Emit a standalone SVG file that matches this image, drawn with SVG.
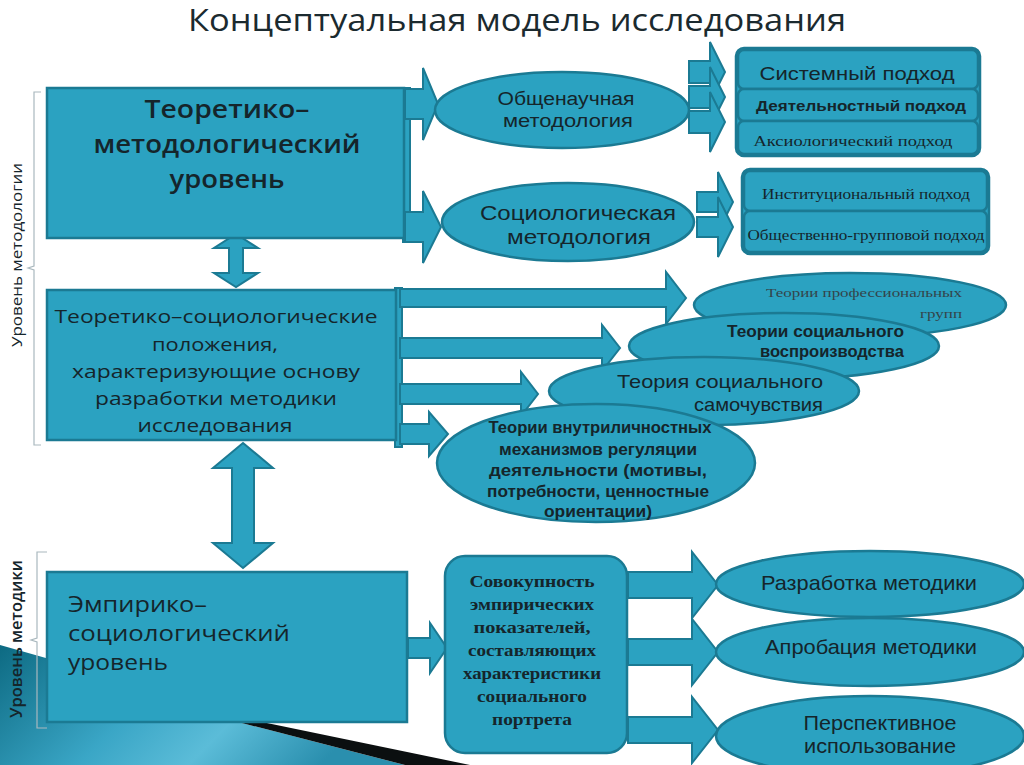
<svg xmlns="http://www.w3.org/2000/svg" width="1024" height="765" viewBox="0 0 1024 765">
<defs>
<linearGradient id="deco" x1="0" y1="0" x2="1" y2="0.3">
<stop offset="0" stop-color="#0d6a82"/>
<stop offset="0.45" stop-color="#3aa6c6"/>
<stop offset="0.7" stop-color="#5bbcd8"/>
<stop offset="1" stop-color="#2a8fae"/>
</linearGradient>
<style>
.n{fill:#2ba2c1;stroke:#1b7a93;stroke-width:2.5}
.a{fill:#2ba2c1;stroke:#1b7a93;stroke-width:2;stroke-linejoin:miter}
.br{fill:none;stroke:#a9b8be;stroke-width:1.2}
.t{fill:#15252b;font-family:"Open Sans","DejaVu Sans",sans-serif;text-anchor:middle}
.c{fill:#15252b;font-family:"Liberation Sans",Arial,sans-serif;text-anchor:middle}
.s{fill:#15252b;font-family:"Liberation Serif","Times New Roman",serif;text-anchor:middle}
</style>
</defs>
<rect width="1024" height="765" fill="#ffffff"/>

<!-- decoration bottom-left -->
<polygon points="0,645 60,662 60,722 238,722 405,765 0,765" fill="url(#deco)"/>
<polygon points="238,722 262,722 470,765 405,765" fill="#0b0f10"/>

<!-- title -->
<text x="517" y="31" font-family="'Open Sans','DejaVu Sans',sans-serif" font-size="31" fill="#1b2a2f" text-anchor="middle" textLength="658" lengthAdjust="spacingAndGlyphs">Концептуальная модель исследования</text>

<!-- side labels -->
<g id="label-methodology">
<path class="br" d="M41,92 L34,92 L34,266 L28,268 L34,270 L34,445 L41,445"/>
<text transform="translate(22,255) rotate(-90)" font-family="'Open Sans','DejaVu Sans',sans-serif" font-size="15" fill="#15252b" text-anchor="middle" textLength="184" lengthAdjust="spacingAndGlyphs">Уровень методологии</text>
</g>
<g id="label-method">
<path class="br" d="M47,552 L37,552 L37,638 L31,640 L37,642 L37,728 L47,728"/>
<text transform="translate(22,639) rotate(-90)" font-family="'Open Sans','DejaVu Sans',sans-serif" font-size="16" font-weight="600" fill="#15252b" text-anchor="middle" textLength="158" lengthAdjust="spacingAndGlyphs">Уровень методики</text>
</g>

<!-- connectors -->
<g id="connectors">
<rect class="a" x="403" y="88" width="7" height="154"/>
<path class="a" d="M405,89 L423,89 L423,68 L438,104 L423,140 L423,119 L405,119 Z"/>
<path class="a" d="M405,212 L423,212 L423,191 L441,227 L423,263 L423,242 L405,242 Z"/>

<path class="a" d="M689,61 L710,61 L710,42 L725,72 L710,102 L710,83 L689,83 Z"/>
<path class="a" d="M689,86 L710,86 L710,67 L725,97 L710,127 L710,108 L689,108 Z"/>
<path class="a" d="M689,111 L710,111 L710,92 L725,122 L710,152 L710,133 L689,133 Z"/>
<path class="a" d="M697,192 L718,192 L718,172 L733,202 L718,232 L718,212 L697,212 Z"/>
<path class="a" d="M697,217 L718,217 L718,197 L733,227 L718,257 L718,237 L697,237 Z"/>

<rect class="a" x="395" y="288" width="7" height="159"/>
<path class="a" d="M400,289 L666,289 L666,272 L686,298 L666,324 L666,307 L400,307 Z"/>
<path class="a" d="M400,338 L602,338 L602,325 L620,348 L602,371 L602,358 L400,358 Z"/>
<path class="a" d="M400,384 L521,384 L521,372 L538,394 L521,416 L521,404 L400,404 Z"/>
<path class="a" d="M400,424 L429,424 L429,412 L448,434 L429,456 L429,444 L400,444 Z"/>

<path class="a" d="M236,234 L258,248 L243,248 L243,273 L258,273 L236,287 L214,273 L229,273 L229,248 L214,248 Z"/>
<path class="a" d="M243,443 L273,468 L254,468 L254,543 L273,543 L243,568 L213,543 L232,543 L232,468 L213,468 Z"/>

<path class="a" d="M408,638 L430,638 L430,623 L447,648 L430,673 L430,658 L408,658 Z"/>

<path class="a" d="M628,572 L692,572 L692,552 L718,585 L692,618 L692,598 L628,598 Z"/>
<path class="a" d="M628,639 L692,639 L692,619 L718,652 L692,685 L692,665 L628,665 Z"/>
<path class="a" d="M628,717 L692,717 L692,697 L718,730 L692,763 L692,743 L628,743 Z"/>
</g>

<!-- main boxes -->
<g id="n-theor-method">
<rect class="n" x="47" y="88" width="357" height="150"/>
<text class="t" x="227" y="118" font-size="25" font-weight="600" textLength="165" lengthAdjust="spacingAndGlyphs">Теоретико–</text>
<text class="t" x="227" y="153" font-size="25" font-weight="600" textLength="267" lengthAdjust="spacingAndGlyphs">методологический</text>
<text class="t" x="227" y="188" font-size="25" font-weight="600" textLength="115" lengthAdjust="spacingAndGlyphs">уровень</text>
</g>

<g id="n-theor-soc">
<rect class="n" x="47" y="290" width="349" height="150"/>
<text class="t" x="216" y="323" font-size="19" textLength="323" lengthAdjust="spacingAndGlyphs">Теоретико–социологические</text>
<text class="t" x="215" y="351" font-size="19" textLength="126" lengthAdjust="spacingAndGlyphs">положения,</text>
<text class="t" x="216" y="378" font-size="19" textLength="288" lengthAdjust="spacingAndGlyphs">характеризующие основу</text>
<text class="t" x="216" y="405" font-size="19" textLength="242" lengthAdjust="spacingAndGlyphs">разработки методики</text>
<text class="t" x="215" y="432" font-size="19" textLength="155" lengthAdjust="spacingAndGlyphs">исследования</text>
</g>

<g id="n-emp">
<rect class="n" x="47" y="572" width="360" height="150"/>
<text class="t" x="68" y="612" font-size="21" style="text-anchor:start" textLength="139" lengthAdjust="spacingAndGlyphs">Эмпирико–</text>
<text class="t" x="68" y="641" font-size="21" style="text-anchor:start" textLength="222" lengthAdjust="spacingAndGlyphs">социологический</text>
<text class="t" x="68" y="670" font-size="21" style="text-anchor:start" textLength="100" lengthAdjust="spacingAndGlyphs">уровень</text>
</g>

<!-- top ellipses -->
<g id="n-general">
<ellipse class="n" cx="562" cy="110" rx="127" ry="38"/>
<text class="c" x="566" y="105" font-size="18" textLength="137" lengthAdjust="spacingAndGlyphs">Общенаучная</text>
<text class="c" x="568" y="127" font-size="18" textLength="130" lengthAdjust="spacingAndGlyphs">методология</text>
</g>
<g id="n-sociological">
<ellipse class="n" cx="568" cy="222" rx="126" ry="39"/>
<text class="c" x="578" y="220" font-size="20" textLength="196" lengthAdjust="spacingAndGlyphs">Социологическая</text>
<text class="c" x="579" y="244" font-size="20" textLength="144" lengthAdjust="spacingAndGlyphs">методология</text>
</g>

<!-- approaches -->
<g id="n-approaches1">
<rect class="n" x="736" y="48" width="244" height="108" rx="8"/>
<rect class="n" x="738" y="50" width="240" height="39" rx="6"/>
<rect class="n" x="738" y="89" width="240" height="32" rx="6"/>
<rect class="n" x="738" y="121" width="240" height="33" rx="6"/>
<text class="c" x="857" y="80" font-size="19" textLength="195" lengthAdjust="spacingAndGlyphs">Системный подход</text>
<text class="c" x="861" y="111" font-size="15" font-weight="bold" textLength="210" lengthAdjust="spacingAndGlyphs">Деятельностный подход</text>
<text class="s" x="853" y="146" font-size="14" textLength="199" lengthAdjust="spacingAndGlyphs">Аксиологический подход</text>
</g>
<g id="n-approaches2">
<rect class="n" x="742" y="169" width="247" height="85" rx="8"/>
<rect class="n" x="744" y="171" width="243" height="40" rx="6"/>
<rect class="n" x="744" y="211" width="243" height="41" rx="6"/>
<text class="s" x="866" y="199" font-size="14" textLength="208" lengthAdjust="spacingAndGlyphs">Институциональный подход</text>
<text class="s" x="866" y="240" font-size="14" textLength="237" lengthAdjust="spacingAndGlyphs">Общественно-групповой подход</text>
</g>

<!-- theory ellipses -->
<g id="n-prof">
<ellipse class="n" cx="850" cy="305" rx="156" ry="32"/>
<text class="s" x="864" y="297" font-size="13.5" style="fill:#34454b" textLength="196" lengthAdjust="spacingAndGlyphs">Теории профессиональных</text>
<text class="s" x="962" y="318" font-size="13.5" style="text-anchor:end;fill:#34454b" textLength="42" lengthAdjust="spacingAndGlyphs">групп</text>
</g>
<g id="n-repro">
<ellipse class="n" cx="784" cy="346" rx="155" ry="33"/>
<text class="c" x="904" y="337" font-size="16" font-weight="bold" style="text-anchor:end" textLength="177" lengthAdjust="spacingAndGlyphs">Теории социального</text>
<text class="c" x="904" y="357" font-size="16" font-weight="bold" style="text-anchor:end" textLength="144" lengthAdjust="spacingAndGlyphs">воспроизводства</text>
</g>
<g id="n-wellbeing">
<ellipse class="n" cx="704" cy="391" rx="155" ry="34"/>
<text class="c" x="823" y="388" font-size="19" style="text-anchor:end" textLength="206" lengthAdjust="spacingAndGlyphs">Теория социального</text>
<text class="c" x="823" y="411" font-size="19" style="text-anchor:end" textLength="129" lengthAdjust="spacingAndGlyphs">самочувствия</text>
</g>
<g id="n-intra">
<ellipse class="n" cx="596" cy="463" rx="159" ry="59"/>
<text class="c" x="600" y="433" font-size="16" font-weight="bold" textLength="223" lengthAdjust="spacingAndGlyphs">Теории внутриличностных</text>
<text class="c" x="598" y="455" font-size="16" font-weight="bold" textLength="198" lengthAdjust="spacingAndGlyphs">механизмов регуляции</text>
<text class="c" x="598" y="476" font-size="16" font-weight="bold" textLength="218" lengthAdjust="spacingAndGlyphs">деятельности (мотивы,</text>
<text class="c" x="598" y="497" font-size="16" font-weight="bold" textLength="222" lengthAdjust="spacingAndGlyphs">потребности, ценностные</text>
<text class="c" x="598" y="517" font-size="16" font-weight="bold" textLength="108" lengthAdjust="spacingAndGlyphs">ориентации)</text>
</g>

<!-- empirical indicators -->
<g id="n-indicators">
<rect class="n" x="445" y="556" width="182" height="197" rx="20"/>
<text class="s" x="532" y="587" font-size="17" font-weight="bold" textLength="125" lengthAdjust="spacingAndGlyphs">Совокупность</text>
<text class="s" x="532" y="610" font-size="17" font-weight="bold" textLength="124" lengthAdjust="spacingAndGlyphs">эмпирических</text>
<text class="s" x="532" y="633" font-size="17" font-weight="bold" textLength="117" lengthAdjust="spacingAndGlyphs">показателей,</text>
<text class="s" x="532" y="656" font-size="17" font-weight="bold" textLength="128" lengthAdjust="spacingAndGlyphs">составляющих</text>
<text class="s" x="532" y="679" font-size="17" font-weight="bold" textLength="138" lengthAdjust="spacingAndGlyphs">характеристики</text>
<text class="s" x="532" y="702" font-size="17" font-weight="bold" textLength="110" lengthAdjust="spacingAndGlyphs">социального</text>
<text class="s" x="532" y="725" font-size="17" font-weight="bold" textLength="80" lengthAdjust="spacingAndGlyphs">портрета</text>
</g>

<!-- result ellipses -->
<g id="n-develop">
<ellipse class="n" cx="870" cy="584" rx="154" ry="33"/>
<text class="c" x="869" y="590" font-size="21" textLength="216" lengthAdjust="spacingAndGlyphs">Разработка методики</text>
</g>
<g id="n-approb">
<ellipse class="n" cx="870" cy="652" rx="154" ry="34"/>
<text class="c" x="871" y="654" font-size="21" textLength="212" lengthAdjust="spacingAndGlyphs">Апробация методики</text>
</g>
<g id="n-persp">
<ellipse class="n" cx="870" cy="736" rx="154" ry="40"/>
<text class="c" x="880" y="730" font-size="20" textLength="153" lengthAdjust="spacingAndGlyphs">Перспективное</text>
<text class="c" x="880" y="753" font-size="20" textLength="152" lengthAdjust="spacingAndGlyphs">использование</text>
</g>
</svg>
